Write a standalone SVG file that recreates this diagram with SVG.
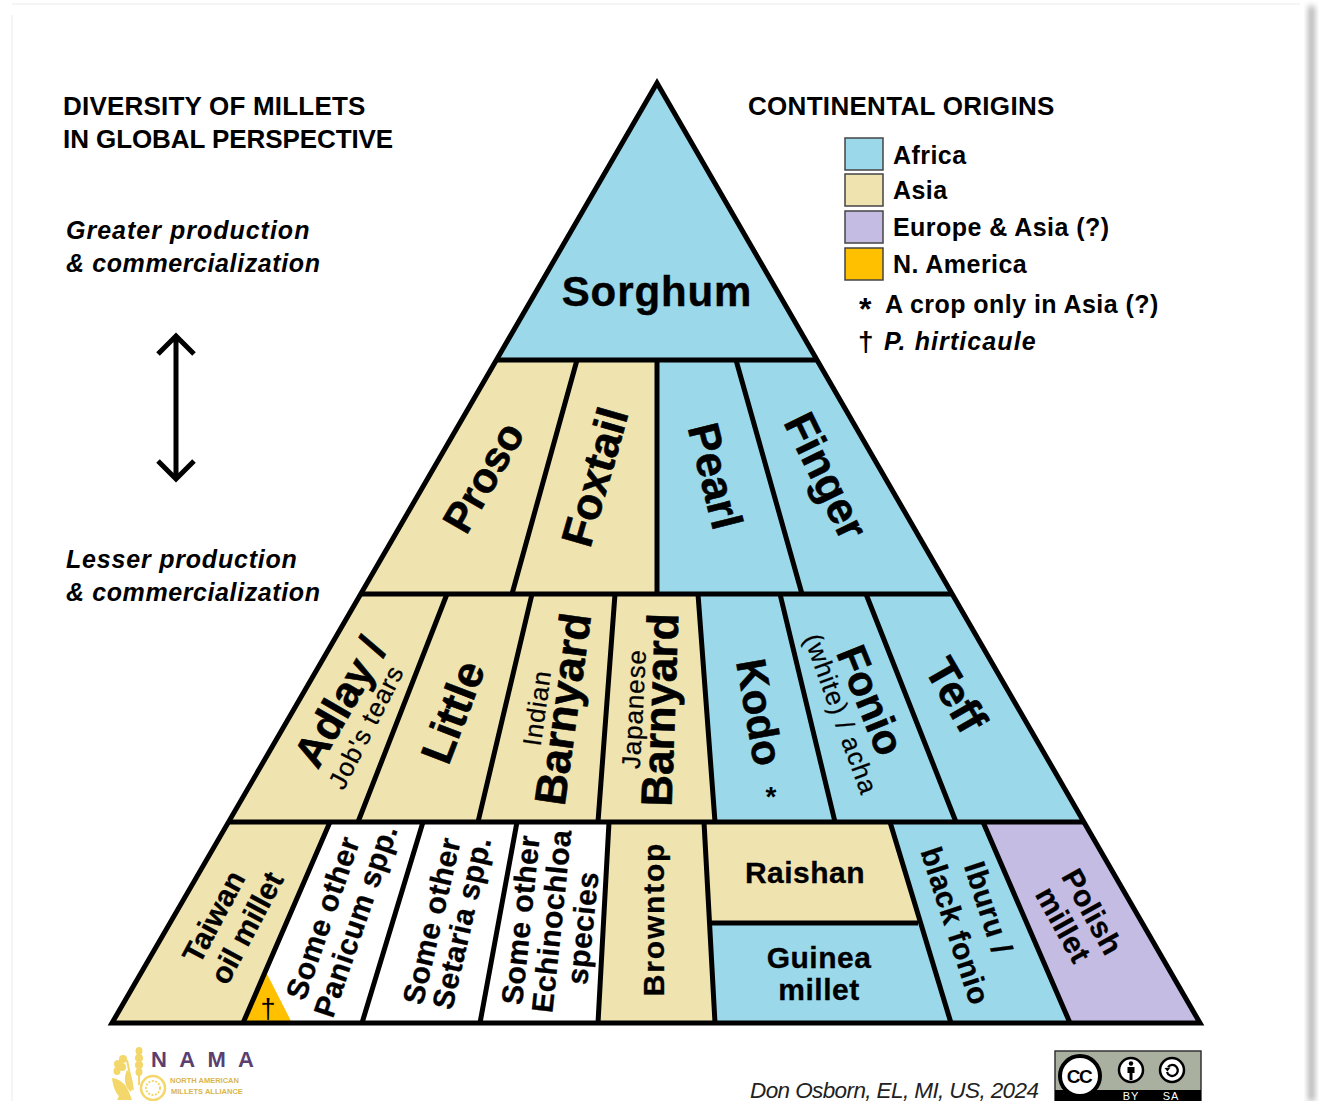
<svg xmlns="http://www.w3.org/2000/svg" width="1321" height="1101" viewBox="0 0 1321 1101">
<style>
text{font-family:"Liberation Sans",Arial,sans-serif;fill:#000}
.b{font-weight:700}
.i{font-style:italic}
.m{text-anchor:middle}
.h{font-weight:700;font-size:44px;stroke:#000;stroke-width:.6px}
.s{font-size:26px;letter-spacing:.9px;stroke:#000;stroke-width:.25px}
.t{font-weight:700;font-size:30px;letter-spacing:.5px;stroke:#000;stroke-width:.3px}
.l{font-size:25px;font-weight:700;letter-spacing:.45px}
.tt{font-weight:700;font-size:26px}
.ti{font-weight:700;font-style:italic;font-size:25px;letter-spacing:.6px}
.bl{fill:#9AD8EA}.be{fill:#EFE3B0}.pu{fill:#C5BCE4}.go{fill:#FFC000}.wh{fill:#fff}
.ln{stroke:#000;stroke-width:5;fill:none}
.sw{stroke:#444;stroke-width:1.5}
.gr{fill:#F3D76B}
</style>
<defs><filter id="sh" x="-100%" width="300%"><feGaussianBlur stdDeviation="3"/></filter></defs>
<rect width="1321" height="1101" fill="#fff"/>
<g id="page-shadow">
<rect x="1309" y="6" width="5" height="1095" fill="#9a9a9a" filter="url(#sh)"/>
<path d="M12 1101V15M12 4H1300" stroke="#f2f2f2" stroke-width="1.5" fill="none"/>
</g>
<g id="tier1"><polygon class="bl" points="657,83 497,360 817,360"/><text class="b m" font-size="42" letter-spacing=".9" stroke="#000" stroke-width=".4" x="657" y="306">Sorghum</text></g>
<g id="tier2">
<polygon class="be" points="497,360 577,360 512,594 361,594"/>
<polygon class="be" points="577,360 657,360 657,594 512,594"/>
<polygon class="bl" points="657,360 736,360 802,594 657,594"/>
<polygon class="bl" points="736,360 817,360 952,594 802,594"/>
</g>
<g id="tier3">
<polygon class="be" points="361,594 447,594 358,822 229,822"/>
<polygon class="be" points="447,594 532,594 478,822 358,822"/>
<polygon class="be" points="532,594 615,594 598,822 478,822"/>
<polygon class="be" points="615,594 698,594 715,822 598,822"/>
<polygon class="bl" points="698,594 780,594 835,822 715,822"/>
<polygon class="bl" points="780,594 866,594 956,822 835,822"/>
<polygon class="bl" points="866,594 952,594 1084,822 956,822"/>
</g>
<g id="tier4">
<polygon class="be" points="229,822 330,822 243,1023 112,1023"/>
<polygon class="wh" points="330,822 423,822 362,1023 243,1023"/>
<polygon class="go" points="266,972 243,1023 292,1023"/>
<polygon class="wh" points="423,822 517,822 480,1023 362,1023"/>
<polygon class="wh" points="517,822 609,822 598,1023 480,1023"/>
<polygon class="be" points="609,822 704,822 715,1023 598,1023"/>
<polygon class="be" points="704,822 890,822 918,923 708,923"/>
<polygon class="bl" points="708,923 918,923 951,1023 715,1023"/>
<polygon class="bl" points="890,822 983,822 1070,1023 951,1023"/>
<polygon class="pu" points="983,822 1084,822 1200,1023 1070,1023"/>
</g>
<g id="connectors" class="ln">
<path d="M657,83 L112,1023 H1200 Z"/>
<path d="M497,360H817M361,594H952M229,822H1084"/>
<path d="M577,360L512,594M657,360V594M736,360L802,594"/>
<path d="M447,594L358,822M532,594L478,822M615,594L598,822M698,594L715,822M780,594L835,822M866,594L956,822"/>
<path d="M330,822L243,1023M423,822L362,1023M517,822L480,1023M609,822L598,1023M704,822L715,1023M890,822L951,1023M983,822L1070,1023M708,923H918"/>
<path d="M176,336V478M158,354L176,336L194,354M158,461L176,479L194,461" stroke-width="5"/>
</g>
<g id="labels-tier2">
<text class="h m" style="font-size:42px" transform="translate(483,477) rotate(-60)" y="15">Proso</text>
<text class="h m" transform="translate(595,477) rotate(-74)" y="15">Foxtail</text>
<text class="h m" transform="translate(715,476) rotate(76)" y="15">Pearl</text>
<text class="h m" transform="translate(826,476) rotate(64)" y="15">Finger</text>
</g>
<g id="labels-tier3">
<text class="h m" style="font-size:43px" transform="translate(340,702) rotate(-60)" y="15">Adlay /</text>
<text class="s m" transform="translate(366,727) rotate(-63)" y="9">Job's tears</text>
<text class="h m" transform="translate(453,712) rotate(-69)" y="15">Little</text>
<text class="s m" transform="translate(537,708) rotate(-82)" y="9">Indian</text>
<text class="h m" transform="translate(563,709) rotate(-82)" y="15">Barnyard</text>
<text class="s m" transform="translate(634,709) rotate(-87)" y="9">Japanese</text>
<text class="h m" transform="translate(660,710) rotate(-88)" y="15">Barnyard</text>
<text class="h m" style="font-size:42px" transform="translate(760,712) rotate(80)" y="15">Kodo</text>
<text class="b m" font-size="28" x="771" y="806">*</text>
<text class="h m" style="font-size:42px" transform="translate(871,700) rotate(68)" y="15">Fonio</text>
<text class="s m" transform="translate(841,714) rotate(70)" y="9">(white) / acha</text>
<text class="h m" transform="translate(956,695) rotate(60)" y="15">Teff</text>
</g>
<g id="labels-tier4">
<text class="t m" transform="translate(214,917) rotate(-62)" y="10" style="letter-spacing:0">Taiwan</text>
<text class="t m" transform="translate(247,928) rotate(-62)" y="10" style="letter-spacing:0">oil millet</text>
<text class="t m" transform="translate(323,918) rotate(-71)" y="10">Some other</text>
<text class="t m" transform="translate(356,921) rotate(-71)" y="10">Panicum spp.</text>
<text class="t m" transform="translate(432,921) rotate(-77)" y="10">Some other</text>
<text class="t m" transform="translate(462,923) rotate(-77)" y="10">Setaria spp.</text>
<text class="t m" transform="translate(521,920) rotate(-84)" y="10">Some other</text>
<text class="t m" transform="translate(552,921) rotate(-84)" y="10">Echinochloa</text>
<text class="t m" transform="translate(583,928) rotate(-84)" y="10">species</text>
<text class="t m" transform="translate(654,919) rotate(-90)" y="10" style="letter-spacing:1.8px">Browntop</text>
<text class="m" font-size="27" x="268" y="1018">†</text>
<text class="t m" x="805" y="883">Raishan</text>
<text class="t m" x="819" y="968">Guinea</text>
<text class="t m" x="819" y="1000">millet</text>
<text class="t m" transform="translate(988,908) rotate(72)" y="10">Iburu /</text>
<text class="t m" transform="translate(955,926) rotate(72)" y="10">black fonio</text>
<text class="t m" transform="translate(1092,912) rotate(61)" y="10">Polish</text>
<text class="t m" transform="translate(1063,925) rotate(61)" y="10">millet</text>
</g>
<g id="title">
<text class="tt" x="63" y="115" letter-spacing=".2">DIVERSITY OF MILLETS</text>
<text class="tt" x="63" y="148" letter-spacing="-.08">IN GLOBAL PERSPECTIVE</text>
<text class="ti" x="66" y="239" style="letter-spacing:1px">Greater production</text>
<text class="ti" x="66" y="272">&amp; commercialization</text>
<text class="ti" x="66" y="568" style="letter-spacing:.8px">Lesser production</text>
<text class="ti" x="66" y="601">&amp; commercialization</text>
</g>
<g id="legend">
<text class="tt" x="748" y="115" letter-spacing=".3">CONTINENTAL ORIGINS</text>
<rect class="bl sw" x="845" y="138" width="38" height="32"/>
<rect class="be sw" x="845" y="174" width="38" height="32"/>
<rect class="pu sw" x="845" y="211" width="38" height="32"/>
<rect class="go sw" x="845" y="248" width="38" height="32"/>
<text class="l" x="893" y="164">Africa</text>
<text class="l" x="893" y="199">Asia</text>
<text class="l" x="893" y="236">Europe &amp; Asia (?)</text>
<text class="l" x="893" y="273">N. America</text>
<text class="b" font-size="32" x="859" y="320">*</text>
<text class="l" x="885" y="313">A crop only in Asia (?)</text>
<text class="b" font-size="28" x="858" y="351">†</text>
<text class="l i" x="884" y="350" style="letter-spacing:1.1px">P. hirticaule</text>
</g>
<g id="logo">
<path d="M139 1050V1085M127 1060L133 1090" stroke="#F3D76B" stroke-width="2" fill="none"/>
<g class="gr">
<ellipse cx="139" cy="1051" rx="3.500" ry="4"/><ellipse cx="139" cy="1058" rx="4" ry="4"/><ellipse cx="139" cy="1065" rx="4" ry="4"/><ellipse cx="139" cy="1072" rx="3.500" ry="4"/>
<ellipse cx="118" cy="1064" rx="4" ry="4"/><ellipse cx="123" cy="1059" rx="4" ry="4"/><ellipse cx="117" cy="1071" rx="3.500" ry="4"/><ellipse cx="122" cy="1067" rx="4" ry="4"/>
<path d="M127 1070c6 6 7 14 4 22c-6-5-8-13-4-22zM112 1078c8 1 14 6 17 14l3 8h-15l2-4c-4-4-6-10-7-18z"/>
</g>
<circle cx="153" cy="1088" r="12" fill="none" stroke="#F3D76B" stroke-width="2.500"/>
<circle cx="153" cy="1088" r="7" fill="none" stroke="#F3D76B" stroke-width="2" stroke-dasharray="2 1.5"/>
<text class="b" font-size="22" x="151" y="1067" letter-spacing="12.300" style="fill:#5B3F70">NAMA</text>
<text class="b" font-size="7.500" x="170" y="1083" style="fill:#D9B64E">NORTH AMERICAN</text>
<text class="b" font-size="7.500" x="171" y="1094" style="fill:#D9B64E">MILLETS ALLIANCE</text>
</g>
<g id="credit">
<text class="i" font-size="22.500" x="750" y="1098" letter-spacing="-.6" style="fill:#222">Don Osborn, EL, MI, US, 2024</text>
</g>
<g id="cc-badge">
<rect x="1055" y="1051" width="146" height="50" fill="#AAB0A0" stroke="#333" stroke-width="1.500"/>
<rect x="1055" y="1090" width="146" height="11" fill="#000"/>
<circle cx="1080" cy="1076" r="20" fill="#fff" stroke="#000" stroke-width="4"/>
<text class="b m" font-size="19" letter-spacing="-1.5" x="1079" y="1083">CC</text>
<circle cx="1131" cy="1070" r="12" fill="#fff" stroke="#000" stroke-width="2.500"/>
<circle cx="1131" cy="1063.500" r="2.200" fill="#000"/>
<path d="M1127.500 1067h7v6h-2v7h-3v-7h-2z" fill="#000"/>
<circle cx="1172" cy="1070" r="12" fill="#fff" stroke="#000" stroke-width="2.500"/>
<path d="M1168 1067a5.500 5.500 0 1 1 -1 5" fill="none" stroke="#000" stroke-width="2.300"/>
<path d="M1164.500 1068l6 -.5l-3 4z" fill="#000"/>
<text class="m" font-size="11" x="1131" y="1100" letter-spacing="1" style="fill:#fff">BY</text>
<text class="m" font-size="11" x="1171" y="1100" letter-spacing="1" style="fill:#fff">SA</text>
</g>
</svg>
